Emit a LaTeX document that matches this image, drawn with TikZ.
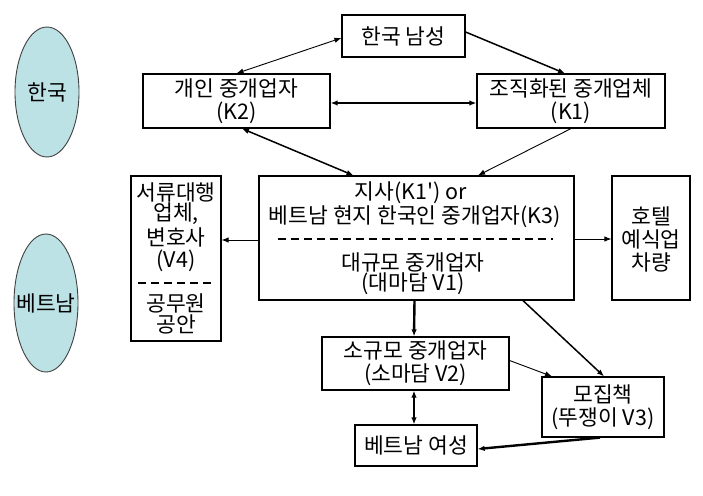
\documentclass[tikz,border=0pt]{standalone}
\usepackage{fontspec}
\newfontfamily\kr{Noto Sans CJK KR}
\usetikzlibrary{arrows.meta,shapes.geometric,calc}
\begin{document}
\begin{tikzpicture}[x=1pt,y=-1pt,
  every node/.style={font=\kr\fontsize{21.5}{23}\selectfont, inner sep=0pt, align=center},
  box/.style={draw, line width=1.2pt, fill=white},
  region/.style={ellipse, draw=black!75, line width=0.9pt, fill=regfill, minimum width=64pt},
  tipa/.style={-{Latex[length=7pt,width=5.5pt]}},
  tipb/.style={{Latex[length=7pt,width=5.5pt]}-{Latex[length=7pt,width=5.5pt]}},
  thin arrow/.style={line width=0.9pt},
  mid arrow/.style={line width=1.5pt},
  thick arrow/.style={line width=2.4pt},
  sep/.style={line width=1.2pt, dash pattern=on 8pt off 5pt}
]
\definecolor{regfill}{HTML}{BCE2E5}
\useasboundingbox (0,0) rectangle (703,495);
\fill[white] (0,0) rectangle (703,495);

% regions
\node[region, minimum height=130pt] (kor) at (47,92) {};
\node (kort) at (kor) {한국};
\node[region, minimum height=138pt] (vie) at (46,303) {};
\node (viet) at (vie) {베트남};

% boxes
\node[box, minimum width=123pt, minimum height=42pt] (nam) at (403.5,36) {한국 남성};
\node[box, minimum width=187pt, minimum height=54pt] (k2) at (236.5,101) {개인 중개업자\\(K2)};
\node[box, minimum width=188pt, minimum height=54pt] (k1) at (571,101) {조직화된 중개업체\\(K1)};
\node[box, minimum width=315pt, minimum height=124pt] (big) at (416.5,238) {};
\node (bt1) at (411,193) {지사(K1') or};
\node (bt2) at (415,217) {베트남 현지 한국인 중개업자(K3)};
\node (bt3) at (413,262) {대규모 중개업자};
\node (bt4) at (413,284) {(대마담 V1)};
\node[box, minimum width=90pt, minimum height=165pt] (v4) at (176,258.5) {};
\node (v4a) at (176,192) {서류대행};
\node (v4b) at (176,214) {업체,};
\node (v4c) at (176,237) {변호사};
\node (v4d) at (176,261) {(V4)};
\node (v4e) at (176,303) {공무원};
\node (v4f) at (176,324) {공안};
\node[box, minimum width=78pt, minimum height=124pt] (hotel) at (651,238) {};
\node (h1) at (651,216) {호텔};
\node (h2) at (651,239) {예식업};
\node (h3) at (651,262) {차량};
\node[box, minimum width=187pt, minimum height=53pt] (small) at (415.5,363.5) {소규모 중개업자\\(소마담 V2)};
\node[box, minimum width=122pt, minimum height=60pt] (rec) at (603,407) {모집책\\(뚜쟁이 V3)};
\node[box, minimum width=122pt, minimum height=41pt] (wom) at (416,445.5) {베트남 여성};

% separators
\draw[sep] ($(big.center)+(-139,1)$) -- ($(big.center)+(136,1)$);
\draw[sep] ($(v4.center)+(-38,24.5)$) -- ($(v4.center)+(36,24.5)$);

% connectors
\draw[thin arrow, tipb] ([yshift=-2pt]nam.west) -- (k2.north);
\draw[mid arrow, tipa] ([yshift=4pt]nam.east) -- ([xshift=-6pt]k1.north);
\draw[thick arrow, tipb] ([yshift=-2pt]k2.east) -- ([yshift=-2pt]k1.west);
\draw[mid arrow, tipb] ([xshift=-63pt]big.north) -- ([xshift=5.5pt]k2.south);
\draw[thin arrow, tipa] (k1.south) -- ([xshift=61.5pt]big.north);
\draw[thin arrow, tipa] ([yshift=-2pt]big.west) -- ([yshift=-2pt]big.west -| v4.east);
\draw[thin arrow, tipa] ([yshift=-1pt]big.east) -- ([yshift=-1pt]big.east -| hotel.west);
\draw[thick arrow, tipa] ([xshift=-2pt]big.south) -- ([xshift=-1.5pt]small.north);
\draw[mid arrow, tipa] ([xshift=106.5pt]big.south) -- ([xshift=1pt]rec.north);
\draw[thin arrow, tipa] ([yshift=3pt]small.east) -- ([xshift=-51pt]rec.north);
\draw[thick arrow, tipb] ([xshift=-1.5pt]small.south) -- ([xshift=-2pt]wom.north);
\draw[thick arrow, tipa] ([xshift=-3pt]rec.south) -- ([yshift=-3.5pt]wom.east);
\end{tikzpicture}
\end{document}
